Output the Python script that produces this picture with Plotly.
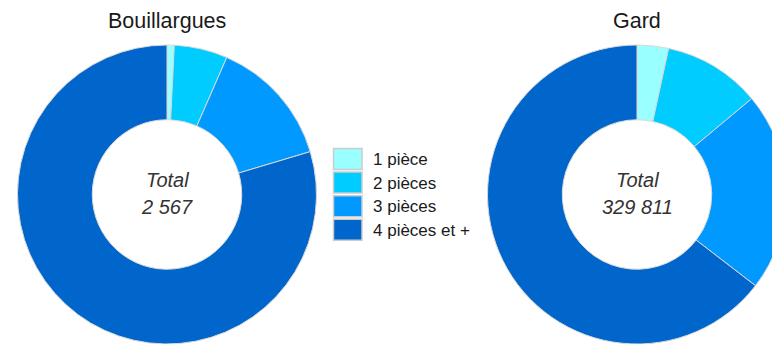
import plotly.graph_objects as go

# Data: housing units by number of rooms
categories = ["1 pièce", "2 pièces", "3 pièces", "4 pièces et +"]
colors = ["#99FFFF", "#00CCFF", "#0099FF", "#0066CC"]
places = ["Bouillargues", "Gard"]
bouillargues_values = [20, 148, 355, 2044]
gard_values = [11200, 34700, 71000, 212911]

W, H = 800, 344
FONT = "Arial, Liberation Sans, sans-serif"


def px(x):
    return x / W


def py(y):
    return 1 - y / H


fig = go.Figure()

centers = [167, 637]
R = 149.5
TOP = 45

for name, vals, cx in zip(places, [bouillargues_values, gard_values], centers):
    fig.add_trace(go.Pie(
        labels=categories,
        values=vals,
        name=name,
        hole=0.5,
        sort=False,
        direction="clockwise",
        rotation=0,
        textinfo="none",
        hoverinfo="label+value+percent",
        marker=dict(colors=colors, line=dict(color="#d9d9d9", width=1)),
        domain=dict(x=[px(cx - R), px(cx + R)], y=[py(TOP + 2 * R), py(TOP)]),
        showlegend=False,
    ))
    total = sum(vals)
    fig.add_annotation(x=px(cx), y=py(20.5), text=name, showarrow=False,
                       xanchor="center", yanchor="middle",
                       font=dict(family=FONT, size=21.5, color="#1a1a1a"))
    fig.add_annotation(x=px(cx), y=py(180), text="<i>Total</i>", showarrow=False,
                       xanchor="center", yanchor="middle",
                       font=dict(family=FONT, size=20, color="#333333"))
    fig.add_annotation(x=px(cx), y=py(207), text="<i>" + f"{total:,}".replace(",", " ") + "</i>",
                       showarrow=False, xanchor="center", yanchor="middle",
                       font=dict(family=FONT, size=20, color="#333333"))

# Legend drawn as swatches with labels between the two donuts
LX0, LX1 = 333.5, 362
for i, (cat, col) in enumerate(zip(categories, colors)):
    y0 = 148.5 + i * 23.6
    y1 = y0 + 21
    fig.add_shape(type="rect", xref="paper", yref="paper",
                  x0=px(LX0), x1=px(LX1), y0=py(y1), y1=py(y0),
                  fillcolor=col, line=dict(color="#cccccc", width=1.5))
    fig.add_annotation(x=px(371), y=py((y0 + y1) / 2 + 0.5), text=cat, showarrow=False,
                       xanchor="left", yanchor="middle",
                       font=dict(family=FONT, size=17, color="#1a1a1a"))

fig.update_layout(
    width=W, height=H,
    autosize=False,
    margin=dict(l=0, r=0, t=0, b=0),
    paper_bgcolor="white",
    plot_bgcolor="white",
    showlegend=False,
)

fig.write_html(
    "out.html",
    post_script="document.body.style.margin='0';document.body.style.overflow='hidden';",
)
